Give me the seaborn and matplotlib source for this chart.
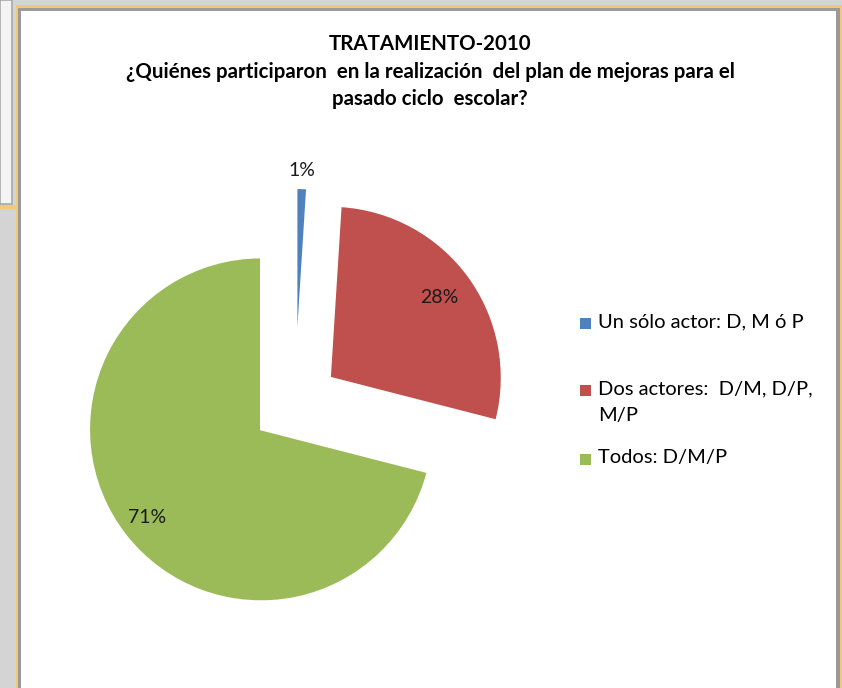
import matplotlib
matplotlib.use("Agg")
import matplotlib.pyplot as plt
from matplotlib.patches import Rectangle
import numpy as np
import seaborn as sns

sns.set_theme(style="white")
plt.rcParams['font.family'] = ['Lato', 'DejaVu Sans']

# ---- data ----
categories = ["Un sólo actor: D, M ó P", "Dos actores:  D/M, D/P,\nM/P", "Todos: D/M/P"]
values = [1, 28, 71]
pct_labels = ["1%", "28%", "71%"]
colors = ["#4F81BD", "#C0504D", "#9BBB59"]
title_lines = ["TRATAMIENTO-2010",
               "¿Quiénes participaron  en la realización  del plan de mejoras para el",
               "pasado ciclo  escolar?"]

W, H = 842, 688
fig = plt.figure(figsize=(W / 100, H / 100), dpi=100)
fig.patch.set_facecolor("#D4D4D4")

def px_rect(x0, y0, x1, y1, z=-10, **kw):
    r = Rectangle((x0 / W, 1 - y1 / H), (x1 - x0) / W, (y1 - y0) / H,
                  transform=fig.transFigure, zorder=z, **kw)
    fig.add_artist(r)

# window decoration (screenshot frame)
px_rect(0, 0, 12, 204, facecolor="#F4F4F4", edgecolor="#A8A8A8", lw=1.2)
px_rect(0, 205, 17, 209, facecolor="#F2C97A", edgecolor="none")
px_rect(16, 5, 842, 700, facecolor="#F2C97A", edgecolor="none")
px_rect(18, 8, 840, 700, facecolor="#9A9A9A", edgecolor="none")
px_rect(21, 11, 836, 700, facecolor="white", edgecolor="none")

# ---- pie ----
cx, cy, R = 295, 403, 172
L = 1.6
S = 2 * L * R
ax = fig.add_axes([(cx - S / 2) / W, (H - cy - S / 2) / H, S / W, S / H])
ax.set_zorder(1)
ax.set_facecolor("none")
wedges, _ = ax.pie(values, colors=colors, startangle=90, counterclock=False,
                   explode=[0.25] * 3, radius=1.0,
                   wedgeprops=dict(edgecolor="white", linewidth=1.5))
ax.set_xlim(-L, L)
ax.set_ylim(-L, L)
ax.set_aspect("equal")
ax.axis("off")

label_frac = [1.1, 0.79, 0.84]
for w, lab, f in zip(wedges, pct_labels, label_frac):
    mid = np.deg2rad((w.theta1 + w.theta2) / 2)
    x = w.center[0] + f * w.r * np.cos(mid)
    y = w.center[1] + f * w.r * np.sin(mid)
    ax.text(x, y, lab, ha="center", va="center", fontsize=14, color="#1a1a1a")

# ---- title ----
title_y = [44, 72, 99]
for t, y in zip(title_lines, title_y):
    fig.text(430 / W, 1 - y / H, t, ha="center", va="center",
             fontsize=14.8, fontweight="bold", color="black", zorder=5)

# ---- legend ----
leg_y = [323, 390, 459]
for cat, col, y in zip(categories, colors, leg_y):
    px_rect(580, y - 5, 591, y + 6, z=5, facecolor=col, edgecolor="none")
    fig.text(598 / W, 1 - (y - 10) / H, cat, ha="left", va="top",
             fontsize=14.5, color="black", linespacing=1.75, zorder=5)

fig.savefig("out.png", dpi=100)
